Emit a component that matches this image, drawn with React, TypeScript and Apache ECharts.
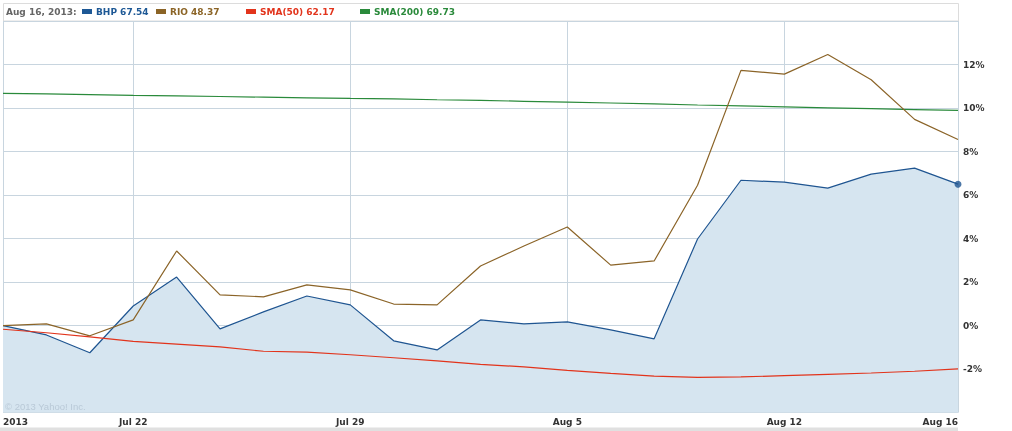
import React, { useEffect, useRef } from "react";
import * as echarts from "echarts";

const dates = ["Jul 17","Jul 18","Jul 19","Jul 22","Jul 23","Jul 24","Jul 25","Jul 26","Jul 29","Jul 30","Jul 31","Aug 1","Aug 2","Aug 5","Aug 6","Aug 7","Aug 8","Aug 9","Aug 12","Aug 13","Aug 14","Aug 15","Aug 16"];
const labelIndices = [0, 3, 8, 13, 18, 22];
const firstLabel = "2013";
const bhp = [0, -0.43, -1.25, 0.9, 2.23, -0.15, 0.63, 1.36, 0.95, -0.7, -1.12, 0.26, 0.08, 0.17, -0.2, -0.61, 3.98, 6.68, 6.59, 6.32, 6.96, 7.24, 6.5];
const rio = [0, 0.08, -0.47, 0.26, 3.43, 1.41, 1.32, 1.87, 1.64, 0.99, 0.95, 2.74, 3.66, 4.53, 2.78, 2.97, 6.45, 11.73, 11.56, 12.46, 11.3, 9.48, 8.55];
const sma50 = [-0.17, -0.33, -0.52, -0.73, -0.85, -0.98, -1.18, -1.22, -1.34, -1.48, -1.62, -1.78, -1.9, -2.06, -2.2, -2.32, -2.38, -2.36, -2.3, -2.24, -2.18, -2.1, -1.99];
const sma200 = [10.67, 10.65, 10.62, 10.58, 10.56, 10.53, 10.5, 10.47, 10.44, 10.42, 10.38, 10.35, 10.31, 10.27, 10.23, 10.19, 10.14, 10.1, 10.05, 10.01, 9.97, 9.93, 9.89];
const legendDate = "Aug 16, 2013:";
const legendItems = [
  { name: "BHP 67.54", color: "#1d5895" },
  { name: "RIO 48.37", color: "#8b6426" },
  { name: "SMA(50) 62.17", color: "#e2341c" },
  { name: "SMA(200) 69.73", color: "#2a8a3b" },
];
const copyright = "© 2013 Yahoo! Inc.";

const FONT = "'DejaVu Sans', Verdana, sans-serif";
const GRID = "#c8d5df";

export default function App() {
  const ref = useRef<HTMLDivElement>(null);
  useEffect(() => {
    if (!ref.current) return;
    const chart = echarts.init(ref.current, undefined, { renderer: "svg" });
    const legendX = [82, 156, 246, 360];
    const graphics: any[] = [
      { type: "rect", shape: { x: 3.5, y: 3.5, width: 955, height: 17.5 }, style: { fill: "#fff", stroke: "#dcdcdc", lineWidth: 1 }, z: 0 },
      { type: "text", x: 6, y: 12, style: { text: legendDate, fill: "#666", font: `bold 9px ${FONT}`, verticalAlign: "middle" } },
      { type: "rect", shape: { x: 0, y: 427.5, width: 958, height: 4 }, style: { fill: "#e0e0e0" } },
      { type: "text", x: 5, y: 406, style: { text: copyright, fill: "#b9c9d7", font: `9.5px 'Liberation Sans', Arial, sans-serif`, verticalAlign: "middle" }, z: 10 },
    ];
    legendItems.forEach((it, i) => {
      graphics.push({ type: "rect", shape: { x: legendX[i], y: 9, width: 10, height: 5 }, style: { fill: it.color } });
      graphics.push({ type: "text", x: legendX[i] + 14, y: 12, style: { text: it.name, fill: it.color, font: `bold 9px ${FONT}`, verticalAlign: "middle" } });
    });
    chart.setOption({
      animation: false,
      grid: { left: 3, right: 54, top: 21, bottom: 18.4, containLabel: false },
      xAxis: {
        type: "category",
        data: dates,
        boundaryGap: false,
        axisLine: { show: false },
        axisTick: { show: false },
        axisLabel: {
          interval: (i: number) => labelIndices.includes(i),
          formatter: (v: string, i: number) => (i === 0 ? firstLabel : v),
          color: "#333",
          fontFamily: FONT,
          fontWeight: "bold",
          fontSize: 9,
          margin: 5,
          alignMinLabel: "left",
          alignMaxLabel: "right",
          showMinLabel: true,
          showMaxLabel: true,
        },
        splitLine: {
          show: true,
          interval: (i: number) => labelIndices.includes(i),
          lineStyle: { color: GRID, width: 1 },
        },
      },
      yAxis: {
        type: "value",
        position: "right",
        min: -4,
        max: 14,
        interval: 2,
        axisLine: { show: false },
        axisTick: { show: false },
        axisLabel: {
          formatter: (v: number) => `${v}%`,
          showMinLabel: false,
          showMaxLabel: false,
          color: "#333",
          fontFamily: FONT,
          fontWeight: "bold",
          fontSize: 9,
          margin: 5,
        },
        splitLine: { show: true, lineStyle: { color: GRID, width: 1 } },
      },
      series: [
        {
          name: "BHP",
          type: "line",
          data: bhp,
          symbol: "none",
          lineStyle: { color: "#1f5591", width: 1.2 },
          itemStyle: { color: "#1f5591" },
          areaStyle: { color: "#d6e5f0", opacity: 1, origin: "start" },
          z: 2,
        },
        { name: "SMA(200)", type: "line", data: sma200, symbol: "none", lineStyle: { color: "#2a8a3b", width: 1.2 }, z: 3 },
        { name: "SMA(50)", type: "line", data: sma50, symbol: "none", lineStyle: { color: "#e2341c", width: 1.2 }, z: 3 },
        { name: "RIO", type: "line", data: rio, symbol: "none", lineStyle: { color: "#8b6428", width: 1.2 }, z: 4 },
        {
          name: "BHP last",
          type: "scatter",
          data: [[dates.length - 1, bhp[bhp.length - 1]]],
          symbol: "circle",
          symbolSize: 7,
          itemStyle: { color: "#1f5591" },
          clip: true,
          z: 5,
        },
      ],
      graphic: graphics,
    });
    return () => chart.dispose();
  }, []);
  return <div ref={ref} style={{ position: "fixed", left: 0, top: 0, width: 1012, height: 431 }} />;
}
